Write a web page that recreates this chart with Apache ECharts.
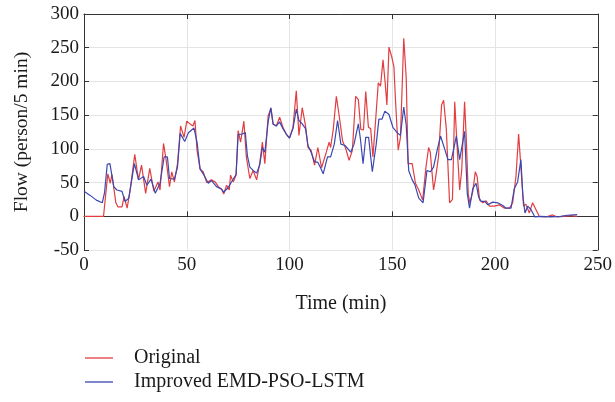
<!DOCTYPE html>
<html><head><meta charset="utf-8">
<script src="https://cdn.jsdelivr.net/npm/echarts@6/dist/echarts.min.js"></script>
<style>html,body{margin:0;padding:0;background:#fff}#c{width:615px;height:402px}</style>
</head><body><div id="c"></div>
<script>
const xTicks = [0, 50, 100, 150, 200, 250];
const yTicks = [-50, 0, 50, 100, 150, 200, 250, 300];

const timeOriginal = [0,9.5,11.6,12.8,13.6,15.5,16.5,18.5,19.5,21,22.5,24.7,26.5,28,30,32,34,36,37,38.7,40,41.6,42.7,44,45.5,47,48.7,50,51.6,53,54,55,56.5,58,59.7,62,63.8,65.4,67,68,69.4,70.7,71.3,72.6,74,75,76.2,77.8,79,80.7,82.3,84,85.5,86.8,88,89.6,91,92,93.6,95.2,96.8,98.4,100,101.7,103.3,104.6,106.2,107.8,109,110.5,112.2,113.8,115.6,117.7,119.3,120,121.3,122.8,124.5,125.8,127.4,129,130.6,132.2,133.5,134.7,136,137.1,138.4,139.5,140.6,141.9,143.2,144.3,145.5,146.5,147.4,148.4,149.7,150.8,151.6,152.9,154,155.6,156.8,157.7,159.7,161.3,162.9,164.8,166.4,167.7,168.5,170.1,171,172.5,174,175,176.3,177.9,179.3,180.4,181.5,182.8,183.8,185.2,186,187,187.8,189.2,190.4,191.3,192.5,194.1,195.7,197.3,199.7,202.1,204.6,207,208.6,210.2,211.5,212.6,213.9,215,216.7,218.3,219.9,221.5,224.7,228,230.4,233.6,236.8,240];
const valueOriginal = [0,0,63,49,62,20,14,14,29,12,40,92,54,76,34,71,37,51,39,108,83,44,66,51,78,134,117,141,137,134,142,98,70,66,50,54,51,44,40,33,46,39,61,51,61,127,110,141,88,56,68,54,78,110,78,149,160,137,134,147,132,122,116,132,186,120,161,134,102,98,76,102,72,93,110,102,129,178,142,112,100,83,98,178,173,129,128,185,132,130,88,142,198,193,232,200,165,251,237,222,171,98,117,264,205,78,78,49,39,24,73,102,95,39,55,88,165,172,130,20,25,170,107,39,68,170,117,32,20,37,66,59,24,20,23,15,15,17,12,12,20,59,122,73,15,18,5,20,10,0,-1,2,-1,0,1,0];

const timeImproved = [0,3,6,8.9,10,11.3,12.6,14.5,16,18.5,20,21.8,24.5,26.6,29,30.6,32.6,34.7,37,39,40.6,41.6,44,45.5,46.8,49,50.8,53.5,55,56.5,58,60.5,62,64.5,67,68,70,72,74,75,77,78.5,79.5,80.7,82.3,84,85.5,86.8,88,89.6,90.9,92,93.6,95.2,96.8,98.4,100,101.7,103.3,104.6,106.2,107.8,109,110.5,112.2,113.8,115.4,116.4,118.5,120,121.8,123.4,125,127,129.8,131.4,133.5,134.5,135.8,137.1,138.5,140.3,142.2,143.5,145,146.4,148.4,150.3,152.4,154,155.6,156.8,158,159.7,161,162.9,165,166.9,168.5,170.1,172,173.5,175.5,177.1,178.8,181.2,182.8,185.2,186.5,187.6,189.2,190.8,192,193.3,195,196.5,198.9,201.3,203.8,205.4,207.8,209.4,211,212.6,213.6,214.6,215.9,217.5,219.4,222.3,227.1,232,235.2,240];
const valueImproved = [37,31,24,20,35,77,78,44,39,37,22,27,78,54,59,46,55,34,49,88,88,56,55,73,123,111,124,131,110,70,63,49,53,44,40,36,42,52,62,121,122,124,90,73,68,64,76,102,95,140,161,137,134,140,130,122,116,130,159,142,137,130,105,95,81,80,70,63,88,88,107,142,107,105,95,107,137,115,78,117,117,66,107,144,144,156,151,132,124,120,162,135,68,54,47,27,20,68,66,73,100,119,100,84,84,119,84,126,34,12,41,49,29,22,22,17,21,20,16,12,12,41,51,84,29,5,15,10,-1,0,-1,0,1.5,2.5];

const seriesNames = ['Original', 'Improved EMD-PSO-LSTM'];
const pair = (t, v) => t.map((x, i) => [x, v[i]]);

const font = 'Liberation Serif';
const txt = '#1a1a1a';
const chart = echarts.init(document.getElementById('c'));
const hidden = {show:false};
chart.setOption({
  animation: false,
  textStyle: {fontFamily: font},
  grid: {left: 84, right: 15, top: 14, bottom: 152},
  legend: {
    orient: 'vertical', left: 80, top: 343, icon: 'rect', itemWidth: 28, itemHeight: 1.3, itemGap: 4,
    textStyle: {fontFamily: font, fontSize: 20, color: txt, padding: [0, 0, 0, 16]},
    data: seriesNames
  },
  xAxis: [{
    type: 'value', min: xTicks[0], max: xTicks[xTicks.length-1], interval: 50,
    name: 'Time (min)', nameLocation: 'middle', nameGap: 44,
    nameTextStyle: {fontFamily: font, fontSize: 20, color: txt},
    axisLine: {lineStyle: {color: '#333', width: 1}},
    axisTick: {inside: true, length: 5, lineStyle: {color: '#333'}},
    axisLabel: {fontFamily: font, fontSize: 19, color: txt, margin: 6},
    splitLine: {show: true, lineStyle: {color: '#e4e4e4', width: 1}}
  }, {
    type: 'value', position: 'top', min: 0, max: 250, interval: 50,
    axisLine: {show: true, onZero: false, lineStyle: {color: '#333', width: 1}},
    axisTick: {inside: true, length: 5, lineStyle: {color: '#333'}},
    axisLabel: hidden, splitLine: hidden
  }],
  yAxis: [{
    type: 'value', min: yTicks[0], max: yTicks[yTicks.length-1], interval: 50,
    name: 'Flow (person/5 min)', nameLocation: 'middle', nameGap: 52,
    nameTextStyle: {fontFamily: font, fontSize: 19.5, color: txt},
    axisLine: {show: true, onZero: false, lineStyle: {color: '#333', width: 1}},
    axisTick: {show: true, inside: true, length: 5, lineStyle: {color: '#333'}},
    axisLabel: {fontFamily: font, fontSize: 19, color: txt, margin: 5},
    splitLine: {show: true, lineStyle: {color: '#e4e4e4', width: 1}}
  }, {
    type: 'value', position: 'right', min: -50, max: 300, interval: 50,
    axisLine: {show: true, onZero: false, lineStyle: {color: '#333', width: 1}},
    axisTick: {show: true, inside: true, length: 5, lineStyle: {color: '#333'}},
    axisLabel: hidden, splitLine: hidden
  }],
  series: [{
    name: seriesNames[0], type: 'line', symbol: 'none', data: pair(timeOriginal, valueOriginal),
    lineStyle: {color: '#e23d40', width: 1.2}, itemStyle: {color: '#e23d40'}
  }, {
    name: seriesNames[1], type: 'line', symbol: 'none', data: pair(timeImproved, valueImproved),
    lineStyle: {color: '#3a48b0', width: 1.2}, itemStyle: {color: '#3a48b0'}
  }]
});
</script></body></html>
